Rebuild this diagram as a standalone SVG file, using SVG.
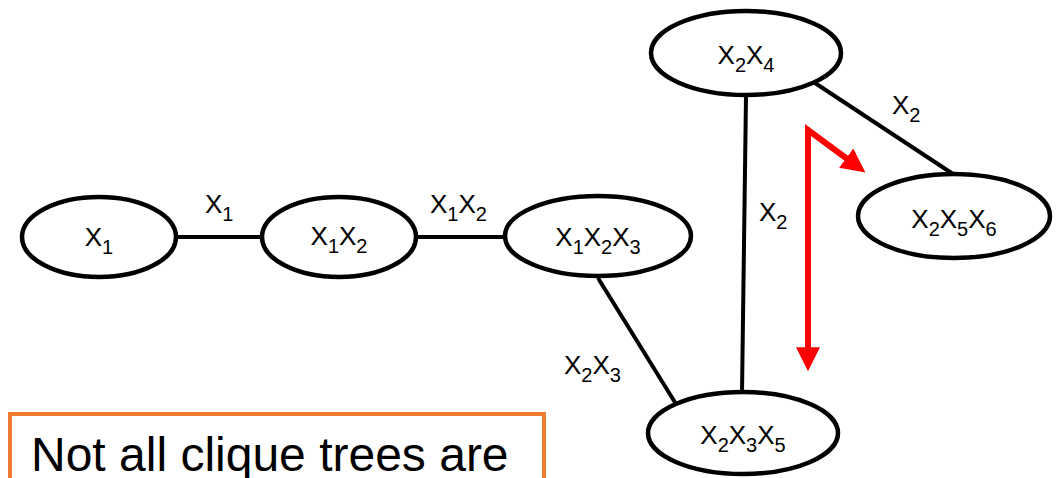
<svg xmlns="http://www.w3.org/2000/svg" width="1058" height="478" viewBox="0 0 1058 478">
<style>
.n{fill:#fff;stroke:#000;stroke-width:4.5}
.e{stroke:#000;stroke-width:4;fill:none}
.t{font-family:"Liberation Sans",Arial,sans-serif;font-size:26px;fill:#000}
.s{font-size:20px}
.big{font-family:"Liberation Sans",Arial,sans-serif;font-size:48px;fill:#000}
</style>
<defs>
<marker id="ah" viewBox="0 0 10 10" refX="2" refY="5" markerWidth="4" markerHeight="4" orient="auto-start-reverse" markerUnits="strokeWidth">
<path d="M0,0 L10,5 L0,10 z" fill="#f00"/>
</marker>
</defs>
<g id="connectors">
<line class="e" x1="178" y1="237" x2="262" y2="237"/>
<line class="e" x1="416" y1="237" x2="505" y2="237"/>
<line class="e" x1="598" y1="278" x2="676" y2="404"/>
<line class="e" x1="746" y1="96" x2="742" y2="393"/>
<line class="e" x1="815" y1="83" x2="953" y2="174"/>
<text class="t" x="205" y="213">X<tspan class="s" dy="8">1</tspan></text>
<text class="t" x="430" y="213">X<tspan class="s" dy="8">1</tspan><tspan dy="-8">X</tspan><tspan class="s" dy="8">2</tspan></text>
<text class="t" x="564" y="374">X<tspan class="s" dy="8">2</tspan><tspan dy="-8">X</tspan><tspan class="s" dy="8">3</tspan></text>
<text class="t" x="759" y="221">X<tspan class="s" dy="8">2</tspan></text>
<text class="t" x="892" y="114">X<tspan class="s" dy="8">2</tspan></text>
</g>
<g id="n1"><ellipse class="n" cx="99" cy="237" rx="77" ry="40"/><text class="t" x="99" y="246" text-anchor="middle">X<tspan class="s" dy="8">1</tspan></text></g>
<g id="n2"><ellipse class="n" cx="339" cy="237" rx="77" ry="40"/><text class="t" x="339" y="245" text-anchor="middle">X<tspan class="s" dy="8">1</tspan><tspan dy="-8">X</tspan><tspan class="s" dy="8">2</tspan></text></g>
<g id="n3"><ellipse class="n" cx="598" cy="236" rx="93" ry="40"/><text class="t" x="598" y="246" text-anchor="middle">X<tspan class="s" dy="8">1</tspan><tspan dy="-8">X</tspan><tspan class="s" dy="8">2</tspan><tspan dy="-8">X</tspan><tspan class="s" dy="8">3</tspan></text></g>
<g id="n4"><ellipse class="n" cx="746" cy="53" rx="95" ry="42"/><text class="t" x="746" y="64" text-anchor="middle">X<tspan class="s" dy="8">2</tspan><tspan dy="-8">X</tspan><tspan class="s" dy="8">4</tspan></text></g>
<g id="n5"><ellipse class="n" cx="954" cy="216" rx="96" ry="42"/><text class="t" x="954" y="228" text-anchor="middle">X<tspan class="s" dy="8">2</tspan><tspan dy="-8">X</tspan><tspan class="s" dy="8">5</tspan><tspan dy="-8">X</tspan><tspan class="s" dy="8">6</tspan></text></g>
<g id="n6"><ellipse class="n" cx="743" cy="433" rx="95" ry="41"/><text class="t" x="743" y="444" text-anchor="middle">X<tspan class="s" dy="8">2</tspan><tspan dy="-8">X</tspan><tspan class="s" dy="8">3</tspan><tspan dy="-8">X</tspan><tspan class="s" dy="8">5</tspan></text></g>
<g id="arrow">
<path d="M808,352 L808,130 L850,161" fill="none" stroke="#f00" stroke-width="6" stroke-linejoin="miter" marker-start="url(#ah)" marker-end="url(#ah)"/>
</g>
<g id="note">
<rect x="10" y="414" width="534" height="80" fill="#fff" stroke="#ED7D31" stroke-width="4"/>
<text class="big" x="31" y="471">Not all clique trees are</text>
</g>
</svg>
